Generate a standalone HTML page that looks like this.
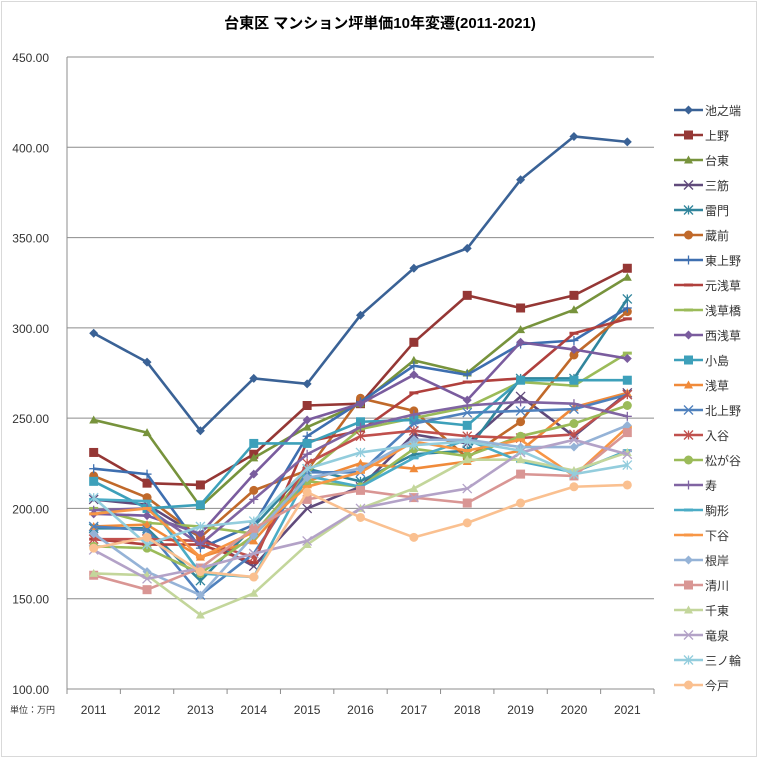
<!DOCTYPE html>
<html><head><meta charset="utf-8"><style>
body{margin:0;background:#fff}
svg{display:block;font-family:"Liberation Sans","Noto Sans CJK JP",sans-serif}
</style></head><body>
<svg id="c" width="759" height="759">
<rect x="1.5" y="1.5" width="755" height="755" fill="#fff" stroke="#d9d9d9"/>
<text x="380" y="28" text-anchor="middle" font-size="15" font-weight="bold" fill="#000">台東区 マンション坪単価10年変遷(2011-2021)</text>
<text x="10" y="713" font-size="9" fill="#333">単位：万円</text>
<g id="grid"></g><g id="series"></g><g id="legend"></g>
</svg>
<script>
const categories=["2011","2012","2013","2014","2015","2016","2017","2018","2019","2020","2021"];
const yTicks=[100,150,200,250,300,350,400,450];
const names=["池之端","上野","台東","三筋","雷門","蔵前","東上野","元浅草","浅草橋","西浅草","小島","浅草","北上野","入谷","松が谷","寿","駒形","下谷","根岸","清川","千東","竜泉","三ノ輪","今戸"];
const colors=["#3A6296","#953735","#77933C","#604A7B","#31859C","#C0692A","#3E6FB0","#B0403D","#9BBB59","#7A5C9E","#3DA0BA","#F08A3A","#4F81BD","#C0504D","#9BBB59","#8064A2","#4BACC6","#F79646","#95B3D7","#D99694","#C3D69B","#B3A2C7","#93CDDD","#FAC090"];
const markers=["diamond","square","triangle","x","star","circle","plus","dash","dash","diamond","square","triangle","x","star","circle","plus","dash","dash","diamond","square","triangle","x","star","circle"];
const s1=[297,281,243,272,269,307,333,344,382,406,403];
const s2=[231,214,213,230,257,258,292,318,311,318,333];
const s3=[249,242,201,228,245,258,282,275,299,310,328];
const s4=[205,202,184,168,200,212,241,236,262,240,264];
const s5=[189,189,160,190,222,215,230,232,272,272,316];
const s6=[218,206,184,210,221,261,254,228,248,285,309];
const s7=[222,219,178,191,240,259,279,274,291,293,311];
const s8=[183,180,180,170,237,243,264,270,272,297,305];
const s9=[200,192,190,186,220,244,250,256,270,268,286];
const s10=[197,196,186,219,249,258,274,260,292,288,283];
const s11=[215,200,202,236,236,248,249,246,271,271,271];
const s12=[190,191,173,182,215,225,222,226,232,256,264];
const s13=[190,188,152,175,220,220,247,253,254,255,263];
const s14=[183,183,182,173,225,240,243,240,239,241,263];
const s15=[179,178,164,185,215,212,233,229,240,247,257];
const s16=[199,200,180,205,230,245,252,257,259,258,251];
const s17=[205,204,164,162,218,212,228,238,226,220,232];
const s18=[197,200,173,187,212,220,237,232,238,218,245];
const s19=[186,165,152,185,217,222,238,238,234,234,246];
const s20=[163,155,167,189,205,210,206,203,219,218,242];
const s21=[164,163,141,153,180,200,211,227,227,221,231];
const s22=[177,161,167,175,182,200,206,211,231,238,230];
const s23=[206,180,190,193,222,231,235,237,232,219,224];
const s24=[178,184,165,162,209,195,184,192,203,212,213];
const series=[s1,s2,s3,s4,s5,s6,s7,s8,s9,s10,s11,s12,s13,s14,s15,s16,s17,s18,s19,s20,s21,s22,s23,s24];

const NS="http://www.w3.org/2000/svg";
const L=67,R=654,T=57,B=689,yMin=100,yMax=450;
const bw=(R-L)/categories.length;
const xS=i=>L+bw*(i+0.5);
const yS=v=>B-(v-yMin)/(yMax-yMin)*(B-T);
function mk(tag,a,parent){const e=document.createElementNS(NS,tag);for(const k in a)e.setAttribute(k,a[k]);parent.appendChild(e);return e;}
const grid=document.getElementById('grid');
yTicks.forEach(v=>{
  if(v>yMin){const g=mk('line',{x1:L,x2:R,y1:yS(v),y2:yS(v),stroke:'#8c8c8c','stroke-width':1},grid);
  
  }
  const t=mk('text',{x:49,y:yS(v)+5,'text-anchor':'end','font-size':12,fill:'#333'},grid);
  t.textContent=v.toFixed(2);
  
  
});
const ax=mk('line',{x1:L,x2:L,y1:T,y2:B,stroke:'#8c8c8c'},grid);


const bx=mk('line',{x1:L,x2:R,y1:B,y2:B,stroke:'#8c8c8c'},grid);


categories.forEach((c,i)=>{
  mk('line',{x1:L+bw*i,x2:L+bw*i,y1:B,y2:B+5,stroke:'#8c8c8c'},grid);
  const t=mk('text',{x:xS(i),y:714,'text-anchor':'middle','font-size':12,fill:'#333'},grid);
  t.textContent=c;
  
  
});
mk('line',{x1:R,x2:R,y1:B,y2:B+5,stroke:'#8c8c8c'},grid);

function marker(g,type,x,y,col){
  const s=4.5;
  if(type==='diamond')mk('polygon',{points:`${x},${y-s} ${x+s},${y} ${x},${y+s} ${x-s},${y}`,fill:col},g);
  else if(type==='square')mk('rect',{x:x-s,y:y-s,width:2*s,height:2*s,fill:col},g);
  else if(type==='triangle')mk('polygon',{points:`${x},${y-s} ${x+s},${y+s-1} ${x-s},${y+s-1}`,fill:col},g);
  else if(type==='circle')mk('circle',{cx:x,cy:y,r:s,fill:col},g);
  else if(type==='x'||type==='star'){
    mk('line',{x1:x-s,y1:y-s,x2:x+s,y2:y+s,stroke:col,'stroke-width':1.3},g);
    mk('line',{x1:x-s,y1:y+s,x2:x+s,y2:y-s,stroke:col,'stroke-width':1.3},g);
    if(type==='star')mk('line',{x1:x,y1:y-s,x2:x,y2:y+s,stroke:col,'stroke-width':1.3},g);
  } else if(type==='plus'){
    mk('line',{x1:x-s,y1:y,x2:x+s,y2:y,stroke:col,'stroke-width':1.3},g);
    mk('line',{x1:x,y1:y-s,x2:x,y2:y+s,stroke:col,'stroke-width':1.3},g);
  } else if(type==='dash')mk('rect',{x:x-s,y:y-1.5,width:2*s,height:3,fill:col},g);
}
const sg=document.getElementById('series'),lg=document.getElementById('legend');
series.forEach((d,k)=>{
  const g=mk('g',{},sg);
  
  
  const pl=mk('polyline',{points:d.map((v,i)=>xS(i)+','+yS(v)).join(' '),fill:'none',stroke:colors[k],'stroke-width':2.6,'stroke-linejoin':'round'},g);
  
  
  d.forEach((v,i)=>marker(g,markers[k],xS(i),yS(v),colors[k]));
  const y=110+k*25;
  const e=mk('g',{},lg);
  
  
  mk('line',{x1:674,x2:703,y1:y,y2:y,stroke:colors[k],'stroke-width':2.6},e);
  marker(e,markers[k],688.5,y,colors[k]);
  const t=mk('text',{x:705,y:y+5,'font-size':12,fill:'#333'},e);
  t.textContent=names[k];
});
</script>
</body></html>
